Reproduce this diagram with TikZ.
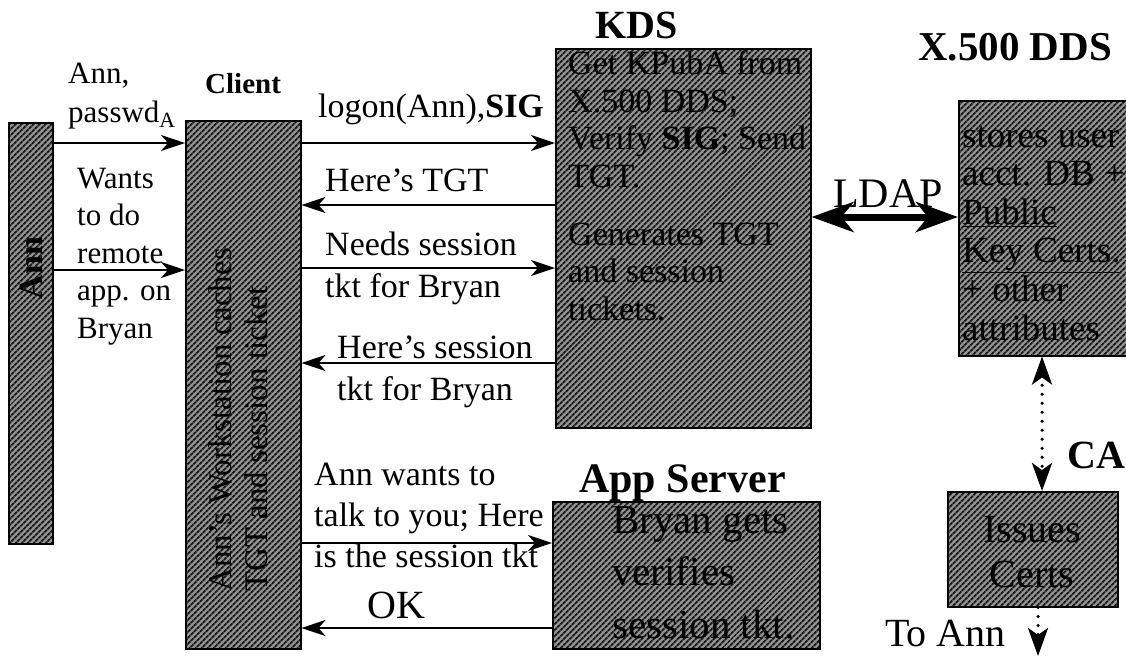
\documentclass[tikz,border=0pt]{standalone}
\usepackage{fontspec}
\setmainfont{Liberation Serif}
\usetikzlibrary{arrows.meta,patterns.meta}
\tikzset{dtip/.tip={Stealth[length=28pt,width=20pt,inset=7pt]}}
\begin{document}
\begin{tikzpicture}[x=1pt,y=-1pt,
  hatched/.style={draw=black, line width=1.5pt, preaction={fill=black!42},
    pattern={Lines[angle=45,distance=4pt,line width=2.1pt]}, pattern color=black!90,
    inner sep=0pt, anchor=north west},
  txt/.style={inner sep=0pt, anchor=base west, align=left},
  msg/.style={line width=2pt, -{Stealth[length=24pt,width=16pt,inset=7pt]}},
  ldap/.style={line width=7pt, {Stealth[length=42pt,width=30pt,inset=12pt]}-{Stealth[length=42pt,width=30pt,inset=12pt]}},
  dotline/.style={line width=3.5pt, line cap=round, dash pattern=on 0pt off 9pt}
]
\useasboundingbox (0,0) rectangle (1126,657);

% --- boxes ---
\node[hatched, minimum width=44pt,  minimum height=421pt] (ann)    at (8,122)  {};
\node[hatched, minimum width=115pt, minimum height=528pt] (client) at (185,120) {};
\node[hatched, minimum width=255pt, minimum height=379pt] (kds)    at (555,48)  {};
\node[hatched, minimum width=190pt, minimum height=255pt] (xdds)   at (958,100) {};
\node[hatched, minimum width=267pt, minimum height=147pt] (app)    at (552,501) {};
\node[hatched, minimum width=170pt, minimum height=115pt] (ca)     at (947,491) {};

% --- text inside the boxes (multi-line nodes sit on their last baseline) ---
\node[inner sep=0pt, rotate=90, font=\bfseries\fontsize{34pt}{40pt}\selectfont] (anntxt) at (31,268) {Ann};
\node[inner sep=0pt, rotate=90, anchor=west, align=left, font=\fontsize{33pt}{36pt}\selectfont] (clienttxt) at (238,592)
  {Ann’s Workstation caches\\TGT and session ticket};
\node[txt, font=\fontsize{34pt}{37.5pt}\selectfont] (kdstxt) at (568,320)
  {Get KPubA from\\X.500 DDS;\\Verify \textbf{SIG}; Send\\TGT.\\[20.5pt]Generates TGT\\and session\\tickets.};
\node[txt, font=\fontsize{37pt}{38.6pt}\selectfont] (xddstxt) at (962,340)
  {stores user\\acct. DB +\\\underline{Public}\\\underline{Key Certs.}\\+ other\\attributes};
\node[txt, font=\fontsize{41pt}{52.5pt}\selectfont] (apptxt) at (612,638)
  {Bryan gets\\verifies\\session tkt.};
\node[inner sep=0pt, anchor=base, align=center, font=\fontsize{40pt}{45pt}\selectfont] (catxt) at (1032,587)
  {Issues\\Certs};

% --- titles ---
\node[txt, font=\bfseries\fontsize{29pt}{34pt}\selectfont] (clientttl) at (205,93) {Client};
\node[txt, font=\bfseries\fontsize{40pt}{46pt}\selectfont] (kdsttl) at (595,38) {KDS};
\node[txt, font=\bfseries\fontsize{41pt}{46pt}\selectfont] (xddsttl) at (918,60) {X.500 DDS};
\node[txt, font=\bfseries\fontsize{42pt}{46pt}\selectfont] (appttl) at (579,492) {App Server};
\node[txt, font=\bfseries\fontsize{40pt}{46pt}\selectfont] (cattl) at (1067,468) {CA};

% --- message labels ---
\node[txt, font=\fontsize{31pt}{39pt}\selectfont] (m1) at (68,122) {Ann,\\passwd\textsubscript{A}};
\node[txt, font=\fontsize{31pt}{37.5pt}\selectfont] (m2) at (77,338) {Wants\\to do\\remote\\app. on\\Bryan};
\node[txt, font=\fontsize{34pt}{42pt}\selectfont] (m3) at (318,117) {logon(Ann),\textbf{SIG}};
\node[txt, font=\fontsize{34pt}{42pt}\selectfont] (m4) at (325,191) {Here’s TGT};
\node[txt, font=\fontsize{34pt}{42pt}\selectfont] (m5) at (325,297) {Needs session\\tkt for Bryan};
\node[txt, font=\fontsize{34pt}{42pt}\selectfont] (m6) at (337,400) {Here’s session\\tkt for Bryan};
\node[txt, font=\fontsize{34pt}{41pt}\selectfont] (m7) at (314,567) {Ann wants to\\talk to you; Here\\is the session tkt};
\node[txt, font=\fontsize{40pt}{46pt}\selectfont] (m8) at (367,618) {OK};
\node[txt, font=\fontsize{42pt}{46pt}\selectfont] (ldaplbl) at (833,207) {LDAP};
\node[txt, font=\fontsize{40pt}{46pt}\selectfont] (toann) at (885,646) {To Ann};

% --- connectors ---
\draw[msg] (ann.east |- 0,143) -- (client.west |- 0,143);
\draw[msg] (ann.east |- 0,270) -- (client.west |- 0,270);
\draw[msg] (client.east |- 0,143) -- (kds.west |- 0,143);
\draw[msg] (kds.west |- 0,205) -- (client.east |- 0,205);
\draw[msg] (client.east |- 0,268) -- (kds.west |- 0,268);
\draw[msg] (kds.west |- 0,363) -- (client.east |- 0,363);
\draw[msg] (client.east |- 0,543) -- (app.west |- 0,543);
\draw[msg] (app.west |- 0,628) -- (client.east |- 0,628);
\draw[ldap] (kds.east |- 0,217) -- (xdds.west |- 0,217);
\draw[dotline, dtip-dtip] (xdds.south -| 1042,0) -- (ca.north -| 1042,0);
\coordinate (annend) at (1038,656);
\draw[dotline, -dtip] (ca.south -| 1038,0) -- (annend);
\end{tikzpicture}
\end{document}
